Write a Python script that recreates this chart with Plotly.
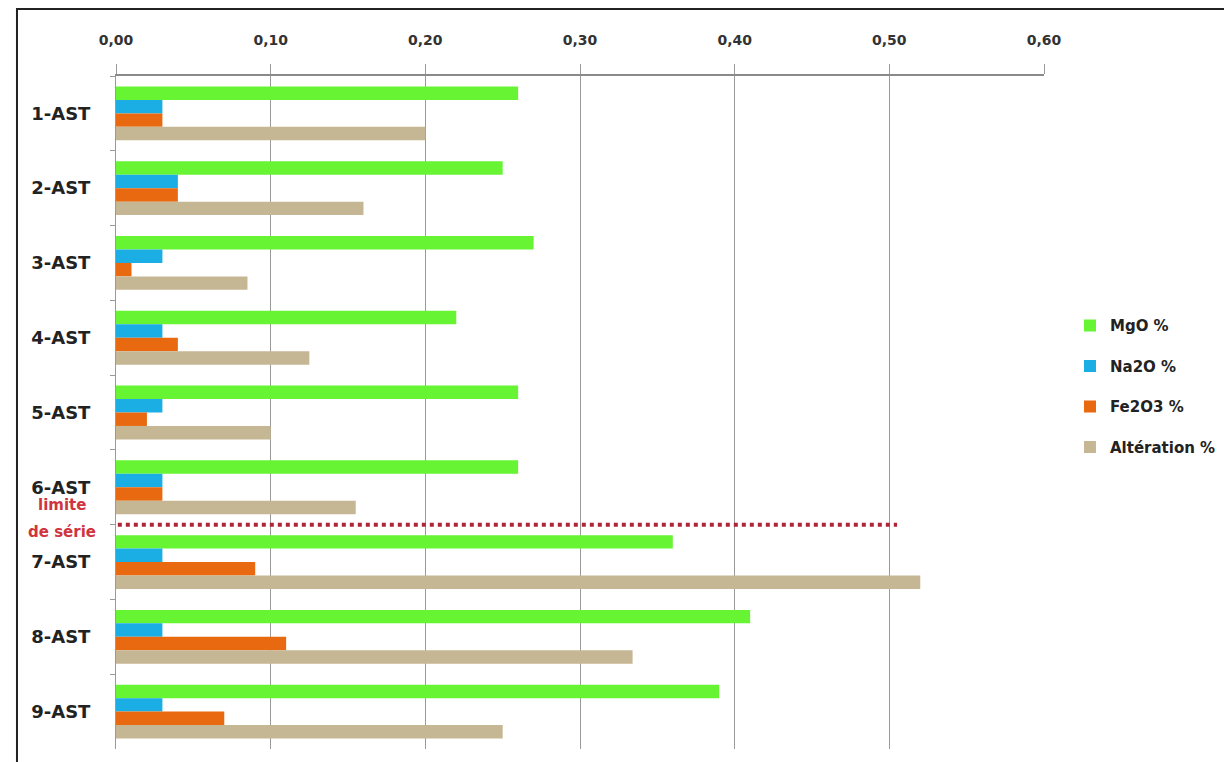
import plotly.graph_objects as go

categories = ["1-AST", "2-AST", "3-AST", "4-AST", "5-AST", "6-AST", "7-AST", "8-AST", "9-AST"]
mgo = [0.26, 0.25, 0.27, 0.22, 0.26, 0.26, 0.36, 0.41, 0.39]
na2o = [0.03, 0.04, 0.03, 0.03, 0.03, 0.03, 0.03, 0.03, 0.03]
fe2o3 = [0.03, 0.04, 0.01, 0.04, 0.02, 0.03, 0.09, 0.11, 0.07]
alteration = [0.20, 0.16, 0.085, 0.125, 0.10, 0.155, 0.52, 0.334, 0.25]
series_names = ["MgO %", "Na2O %", "Fe2O3 %", "Altération %"]
tick_vals = [0.0, 0.1, 0.2, 0.3, 0.4, 0.5, 0.6]
tick_text = ["0,00", "0,10", "0,20", "0,30", "0,40", "0,50", "0,60"]
limit_x_end = 0.505
limit_label = ["limite", "de série"]

colors = ["#66F433", "#1AAEE4", "#E8690F", "#C6B794"]
FONT = "DejaVu Sans"

fig = go.Figure()
for i, (name, vals) in enumerate(zip(series_names, [mgo, na2o, fe2o3, alteration])):
    fig.add_trace(go.Bar(
        y=categories, x=vals, name=name, orientation="h",
        marker=dict(color=colors[i], line=dict(width=0)),
        legendgroup=name,
    ))

fig.update_layout(
    width=1232, height=762,
    margin=dict(l=108, r=196, t=68, b=21, autoexpand=False),
    paper_bgcolor="white", plot_bgcolor="white",
    barmode="group", bargap=0.28, bargroupgap=0.0,
    font=dict(family=FONT, color="#333333"),
    legend=dict(
        x=1.028, y=0.539, xanchor="left", yanchor="middle",
        traceorder="grouped", tracegroupgap=18,
        font=dict(family=FONT, size=15, color="#222222", weight="bold"),
        itemwidth=30,
    ),
    xaxis=dict(
        side="top", range=[0, 0.6], tickvals=tick_vals, ticktext=tick_text,
        showgrid=True, gridcolor="#9a9a9a", gridwidth=1,
        showline=True, linecolor="#8a8a8a", linewidth=2,
        ticks="outside", ticklen=10, tickcolor="#9a9a9a",
        tickfont=dict(family=FONT, size=14, color="#333333", weight="bold"),
        ticklabelstandoff=13,
        zeroline=False, fixedrange=True, automargin=False,
    ),
    yaxis=dict(
        autorange=False, range=[8.5, -0.5],
        showline=True, linecolor="#9a9a9a", linewidth=1,
        ticks="outside", tickson="boundaries", ticklen=5, tickcolor="#9a9a9a",
        tickfont=dict(family=FONT, size=18, color="#222222", weight="bold"),
        showgrid=False, fixedrange=True, ticklabelstandoff=21, automargin=False,
    ),
    showlegend=True,
)

# series limit line between 6-AST and 7-AST
fig.add_shape(type="line", xref="x", yref="y", x0=-0.004, x1=limit_x_end, y0=5.5, y1=5.5,
              line=dict(color="#B0253A", width=4, dash="dot"))
fig.add_annotation(xref="paper", yref="y", x=-0.058, y=5.24, text=limit_label[0], showarrow=False,
                   xanchor="center", yanchor="middle",
                   font=dict(family=FONT, size=15, color="#D0343F", weight="bold"))
fig.add_annotation(xref="paper", yref="y", x=-0.058, y=5.6, text=limit_label[1], showarrow=False,
                   xanchor="center", yanchor="middle",
                   font=dict(family=FONT, size=15, color="#D0343F", weight="bold"))

# outer frame
fig.add_shape(type="rect", xref="paper", yref="paper", x0=-0.1067, x1=1.2, y0=-0.04, y1=1.0996,
              line=dict(color="#222222", width=2), fillcolor="rgba(0,0,0,0)", layer="below")

fig.write_html("out.html")
